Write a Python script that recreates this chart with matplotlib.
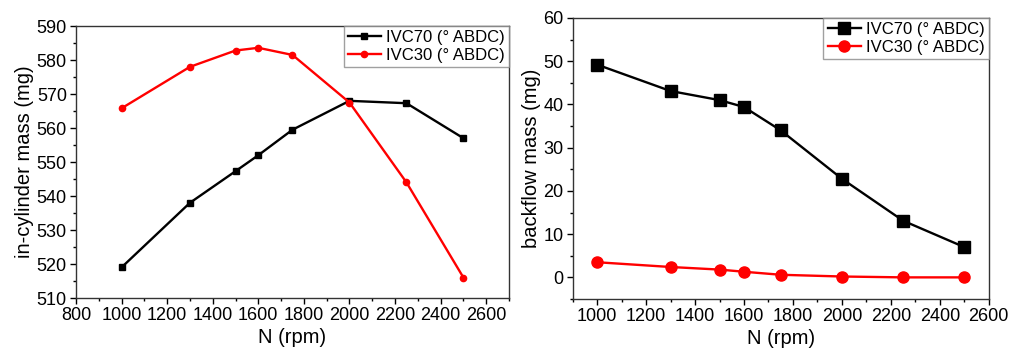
import matplotlib.pyplot as plt
from matplotlib.ticker import MultipleLocator

plt.rcParams['font.family'] = ['Liberation Sans', 'DejaVu Sans']

rpm = [1000, 1300, 1500, 1600, 1750, 2000, 2250, 2500]

# in-cylinder mass (mg)
mass_ivc70 = [519.0, 538.0, 547.3, 552.0, 559.5, 568.0, 567.3, 557.0]
mass_ivc30 = [565.8, 578.0, 582.8, 583.6, 581.5, 567.5, 544.0, 516.0]

# backflow mass (mg)
back_ivc70 = [49.2, 43.1, 41.0, 39.4, 34.0, 22.8, 13.1, 7.0]
back_ivc30 = [3.5, 2.4, 1.8, 1.3, 0.6, 0.2, 0.0, 0.0]

labels = ['IVC70 (° ABDC)', 'IVC30 (° ABDC)']

fig = plt.figure(figsize=(10.1, 3.52), dpi=100)
ax1 = fig.add_axes([0.0752, 0.1534, 0.4288, 0.7726])
ax2 = fig.add_axes([0.567, 0.1506, 0.412, 0.7984])

# left panel
ax1.plot(rpm, mass_ivc70, color='black', marker='s', ms=4.5, lw=1.7, label=labels[0])
ax1.plot(rpm, mass_ivc30, color='red', marker='o', ms=4.5, lw=1.7, label=labels[1])
ax1.set_xlim(800, 2700)
ax1.set_ylim(510, 590)
ax1.xaxis.set_major_locator(MultipleLocator(200))
ax1.xaxis.set_minor_locator(MultipleLocator(100))
ax1.yaxis.set_major_locator(MultipleLocator(10))
ax1.yaxis.set_minor_locator(MultipleLocator(5))
ax1.set_xlabel('N (rpm)', fontsize=14.5, labelpad=3)
ax1.set_ylabel('in-cylinder mass (mg)', fontsize=14.5, labelpad=2)

# right panel
ax2.plot(rpm, back_ivc70, color='black', marker='s', ms=8, lw=1.7, label=labels[0])
ax2.plot(rpm, back_ivc30, color='red', marker='o', ms=8, lw=1.7, label=labels[1])
ax2.set_xlim(900, 2600)
ax2.set_ylim(-5, 60)
ax2.xaxis.set_major_locator(MultipleLocator(200))
ax2.xaxis.set_minor_locator(MultipleLocator(100))
ax2.yaxis.set_major_locator(MultipleLocator(10))
ax2.yaxis.set_minor_locator(MultipleLocator(5))
ax2.set_xlabel('N (rpm)', fontsize=14.5, labelpad=3)
ax2.set_ylabel('backflow mass (mg)', fontsize=14.5, labelpad=2)

for ax in (ax1, ax2):
    ax.tick_params(which='major', direction='out', length=4, width=1, labelsize=13, pad=2.5)
    ax.tick_params(which='minor', direction='out', length=2.5, width=1)
    for s in ax.spines.values():
        s.set_linewidth(1)
        s.set_color('#333333')
    leg = ax.legend(loc='upper right', borderaxespad=0, fontsize=12, fancybox=False,
                    handlelength=2.0, labelspacing=0.15, borderpad=0.25, handletextpad=0.3)
    leg.get_frame().set_edgecolor('#888888')
    leg.get_frame().set_linewidth(1)

fig.savefig('out.png', dpi=100)
